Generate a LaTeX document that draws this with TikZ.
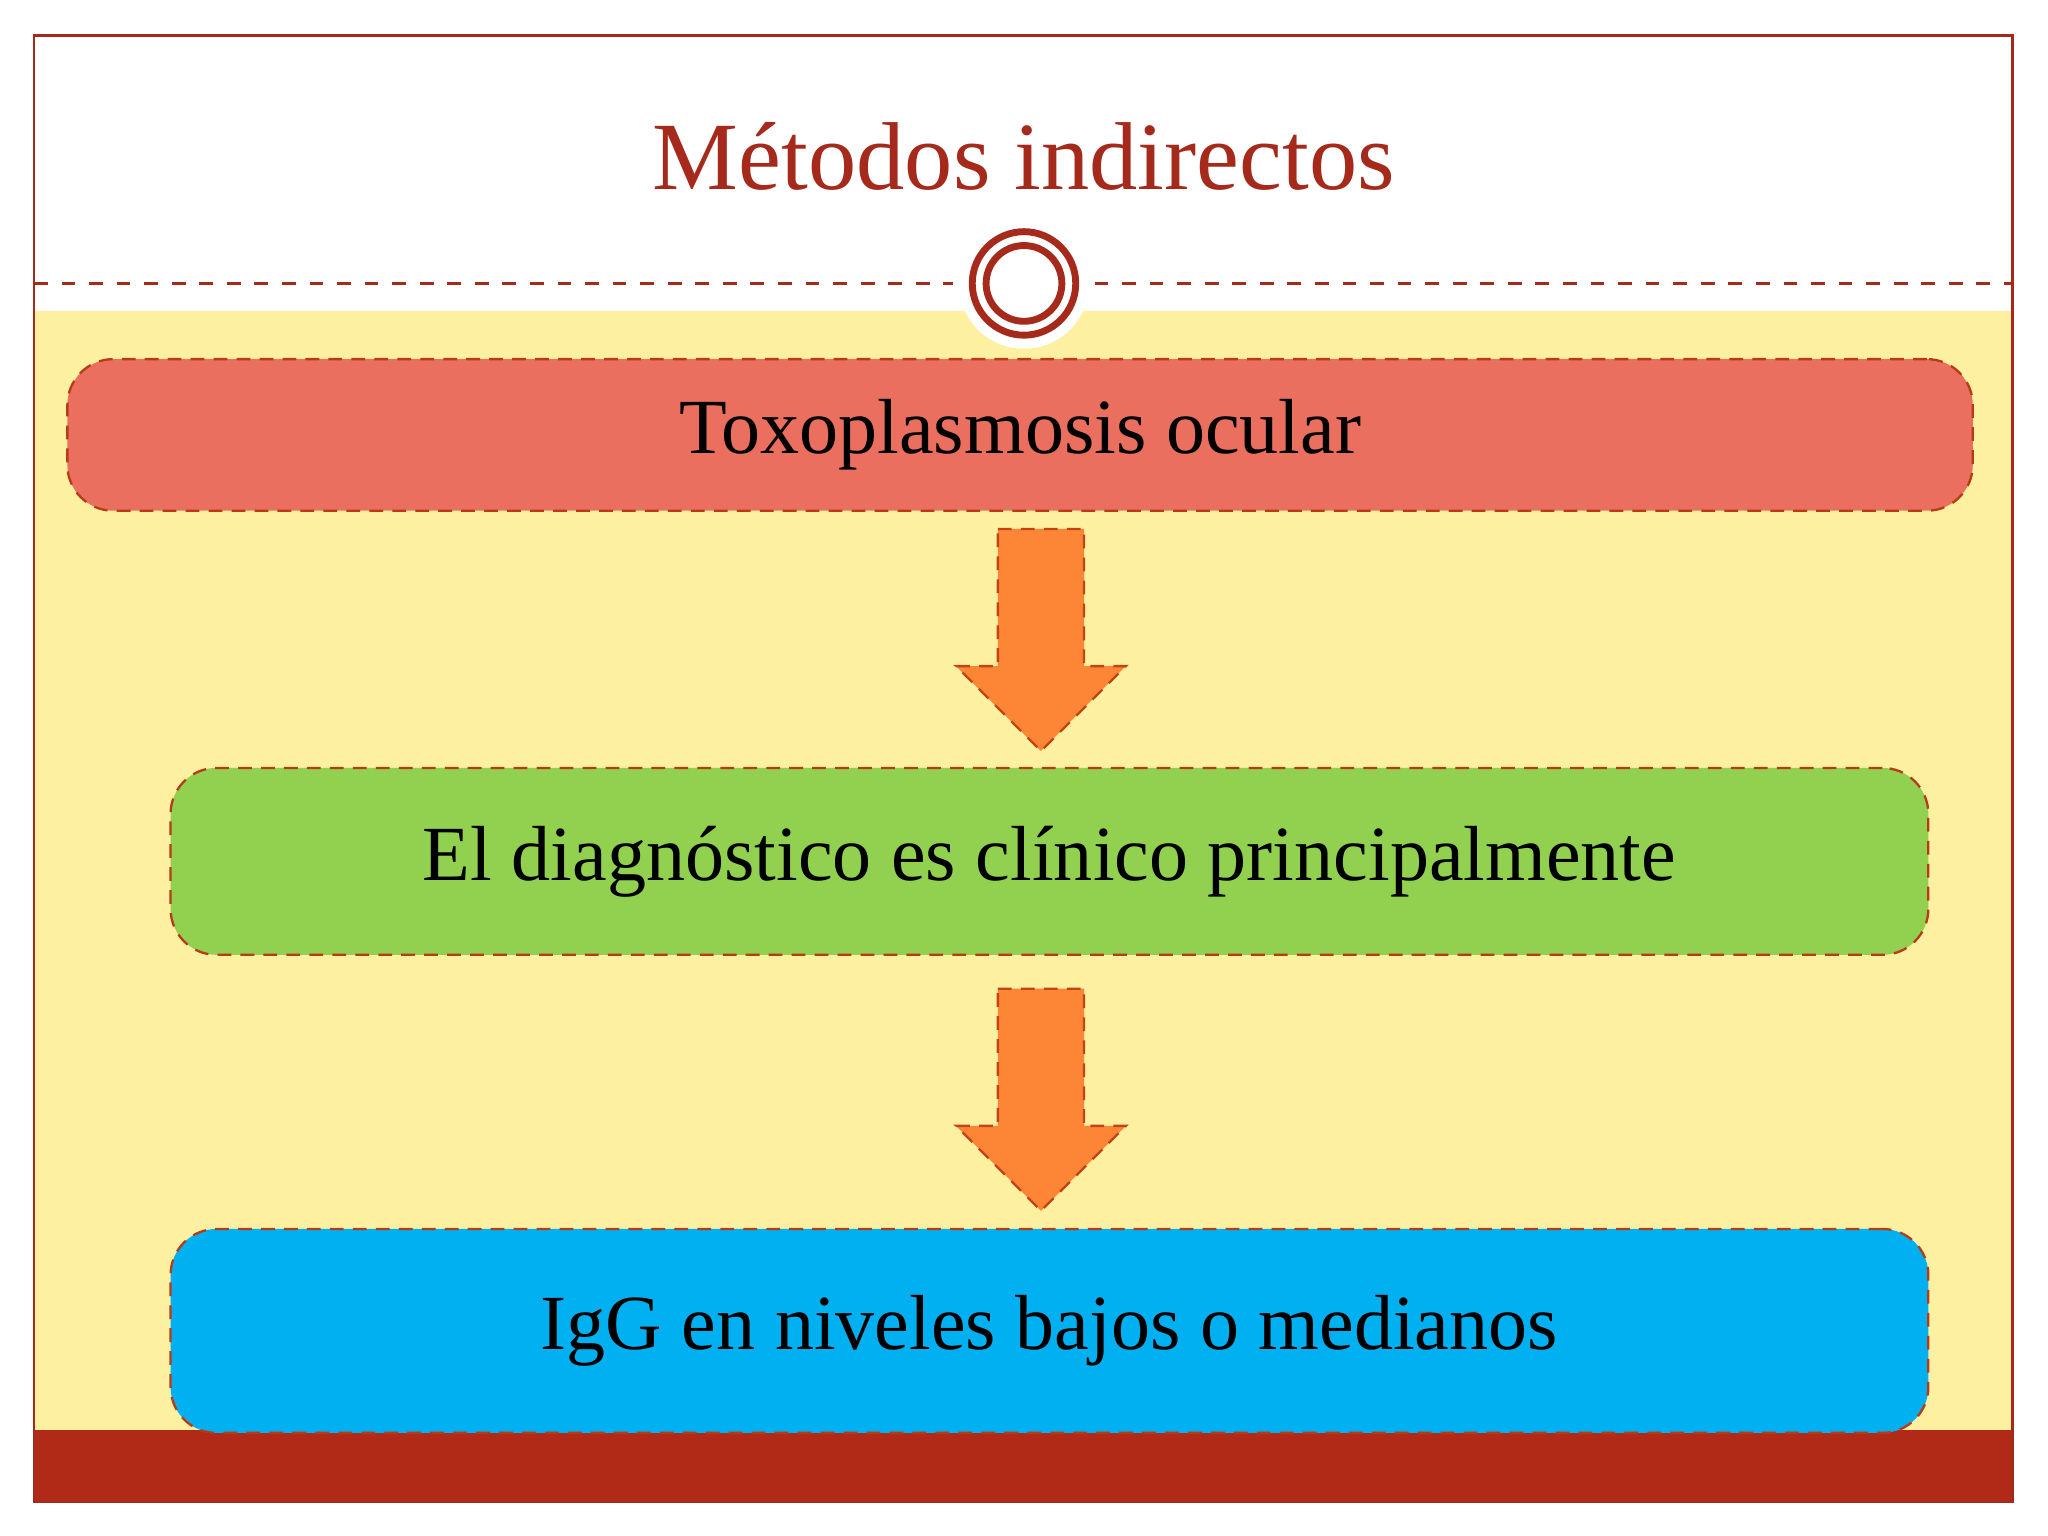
\documentclass[tikz,border=0pt]{standalone}
\usepackage{fontspec}
\setmainfont{Liberation Serif}
\usetikzlibrary{shapes.arrows}
\definecolor{dred}{HTML}{A52A1C}
\definecolor{bar}{HTML}{B02A17}
\definecolor{yel}{HTML}{FDF0A0}
\definecolor{b1}{HTML}{EB6F5E}
\definecolor{b2}{HTML}{92D050}
\definecolor{b3}{HTML}{00B0F0}
\definecolor{arr}{HTML}{FD8536}
\tikzset{box/.style={draw=dred!80!orange,densely dashed,line width=0.5pt,rounded corners=10pt},
 arrowshape/.style={fill=arr,draw=dred!70!orange,densely dashed,line width=0.5pt}}
\begin{document}
\begin{tikzpicture}[x=0.01cm,y=-0.01cm]
\useasboundingbox (0,0) rectangle (1568,1176);
\fill[white] (0,0) rectangle (1568,1176);
\fill[yel] (26,238) rectangle (1541,1095);
\fill[white] (784,217) circle (50);
\fill[bar] (26,1095) rectangle (1541,1150);
\draw[dred,line width=0.6pt] (26,27) rectangle (1541,1150);
\coordinate (l1) at (26,217); \coordinate (l2) at (730,217);
\coordinate (l3) at (838,217); \coordinate (l4) at (1541,217);
\draw[dred,dashed,line width=0.6pt] (l1) -- (l2) (l3) -- (l4);
\node[circle,draw=dred,line width=1.5pt,minimum size=80\pgflinewidth,inner sep=0,minimum size=2.2cm*0.36] (c) at (784,217) {};
\draw[dred,line width=1.5pt] (784,217) circle (29);
\node[text=dred,font=\fontsize{21}{25}\selectfont] (t) at (784,120) {Métodos indirectos};
\node[box,fill=b1,minimum width=14.58cm,minimum height=1.16cm,font=\fontsize{17}{20}\selectfont] (n1) at (781,333) {Toxoplasmosis ocular};
\node[box,fill=b2,minimum width=13.45cm,minimum height=1.43cm,font=\fontsize{17}{20}\selectfont] (n2) at (803.5,659.5) {El diagnóstico es clínico principalmente};
\node[box,fill=b3,minimum width=13.45cm,minimum height=1.56cm,font=\fontsize{17}{20}\selectfont] (n3) at (803.5,1019) {IgG en niveles bajos o medianos};
\draw[arrowshape] (764,405) -- (830,405) -- (830,510) -- (862,510) -- (797,575) -- (732,510) -- (764,510) -- cycle;
\draw[arrowshape] (764,757) -- (830,757) -- (830,862) -- (862,862) -- (797,927) -- (732,862) -- (764,862) -- cycle;
\end{tikzpicture}
\end{document}
